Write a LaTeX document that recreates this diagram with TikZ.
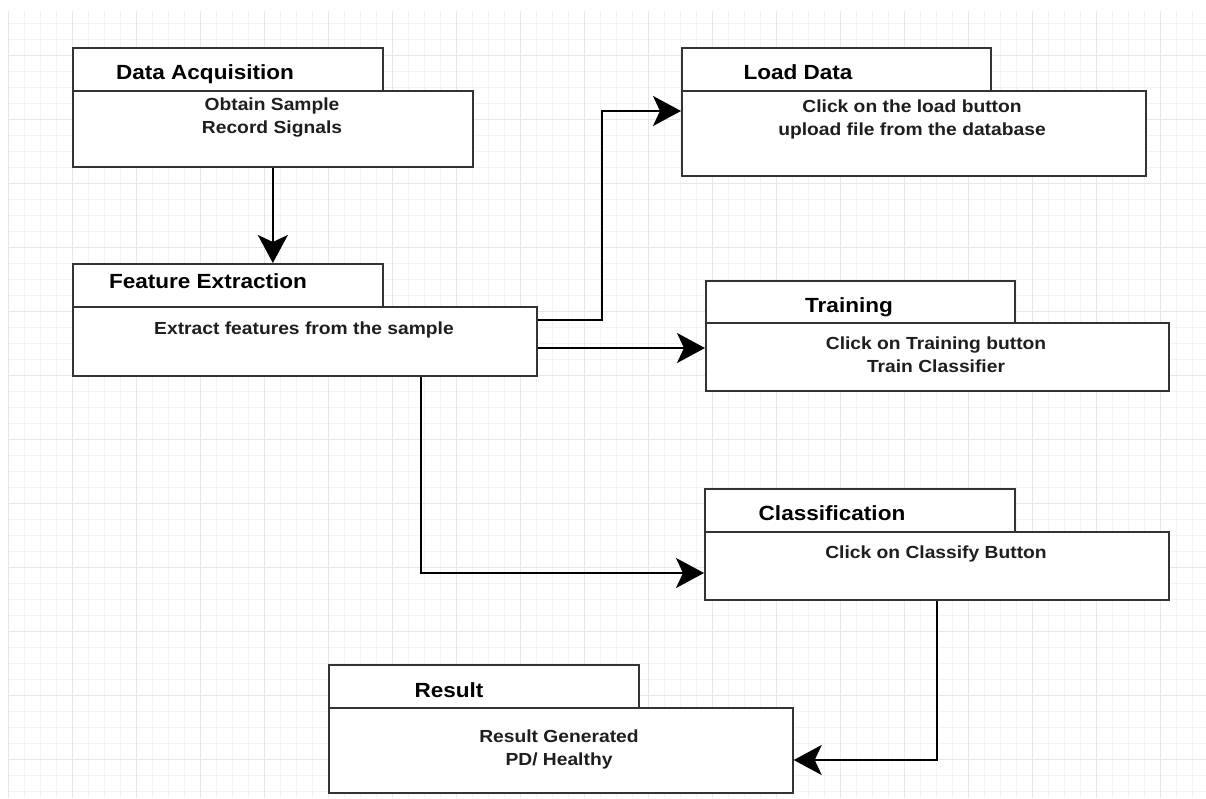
\documentclass[tikz,border=0pt]{standalone}
\usepackage{fontspec}
\setmainfont{Liberation Sans}[FakeStretch=1.1]
\usetikzlibrary{arrows.meta,calc}

\definecolor{gridminor}{HTML}{F3F3F3}
\definecolor{gridmajor}{HTML}{E7E7E7}
\definecolor{boxline}{HTML}{333333}
\definecolor{bodytext}{HTML}{1E1E1E}

\tikzset{
  box/.style={draw=boxline, line width=1.7pt, fill=white, rectangle,
    inner sep=0pt, anchor=north west},
  headbox/.style={box, minimum width=310pt, minimum height=43pt},
  titletext/.style={font=\bfseries\fontsize{20.5}{24}\selectfont, text=black,
    inner sep=0pt, anchor=base},
  bodytxt/.style={font=\bfseries\fontsize{17.5}{23}\selectfont, text=bodytext,
    align=center, inner sep=0pt, anchor=north},
  flow/.style={draw=black, line width=1.8pt,
    -{Stealth[length=28pt,width=30pt,inset=7pt]}}
}

\begin{document}
\begin{tikzpicture}[x=1pt, y=-1pt]
  \useasboundingbox[fill=white] (0,0) rectangle (1206,798);

  % background grid
  \begin{scope}
    \clip (8,11) rectangle (1206,798);
    \foreach \x in {8,24,...,1206} \draw[gridminor, line width=1pt] (\x,11) -- (\x,798);
    \foreach \y in {23,39,...,798} \draw[gridminor, line width=1pt] (8,\y) -- (1206,\y);
    \foreach \x in {8,72,...,1206} \draw[gridmajor, line width=1pt] (\x,11) -- (\x,798);
    \foreach \y in {55,119,...,798} \draw[gridmajor, line width=1pt] (8,\y) -- (1206,\y);
  \end{scope}

  % Data Acquisition
  \node[headbox] (daH) at (72,47) {};
  \node[box, minimum width=400pt, minimum height=76pt] (daB) at (72,90) {};
  \node[titletext] (daT) at (205,79) {Data Acquisition};
  \node[bodytxt] (daX) at (272,98) {Obtain Sample\\Record Signals};

  % Load Data
  \node[headbox, minimum width=309pt] (ldH) at (681,47) {};
  \node[box, minimum width=464pt, minimum height=85pt] (ldB) at (681,90) {};
  \node[titletext] (ldT) at (798,79) {Load Data};
  \node[bodytxt] (ldX) at (912,100) {Click on the load button\\upload file from the database};

  % Feature Extraction
  \node[headbox] (feH) at (72,263) {};
  \node[box, minimum width=464pt, minimum height=69pt] (feB) at (72,306) {};
  \node[titletext] (feT) at (208,288) {Feature Extraction};
  \node[bodytxt] (feX) at (304,322) {Extract features from the sample};

  % Training
  \node[headbox, minimum width=309pt, minimum height=42pt] (trH) at (705,280) {};
  \node[box, minimum width=463pt, minimum height=68pt] (trB) at (705,322) {};
  \node[titletext] (trT) at (849,312) {Training};
  \node[bodytxt] (trX) at (936,337) {Click on Training button\\Train Classifier};

  % Classification
  \node[headbox] (clH) at (704,488) {};
  \node[box, minimum width=464pt, minimum height=68pt] (clB) at (704,531) {};
  \node[titletext] (clT) at (832,520) {Classification};
  \node[bodytxt] (clX) at (936,546) {Click on Classify Button};

  % Result
  \node[headbox] (rsH) at (328,664) {};
  \node[box, minimum width=464pt, minimum height=85pt] (rsB) at (328,707) {};
  \node[titletext] (rsT) at (449,697) {Result};
  \node[bodytxt] (rsX) at (559,730) {Result Generated\\PD/ Healthy};

  % connectors
  \draw[flow] (daB.south) -- (daB.south |- feH.north);
  \draw[flow] ($(feB.north east)+(0,14)$) -| ($(feB.north east)+(64,14)$)
    |- ($(ldB.north west)+(0,21)$);
  \draw[flow] ($(feB.north east)+(0,42)$) -- ($(trB.north west)+(0,26)$);
  \draw[flow] ($(feB.south west)+(349,0)$) |- ($(clB.north west)+(0,42)$);
  \draw[flow] ($(clB.south west)+(233,0)$) |- ($(rsB.north east)+(0,53)$);
\end{tikzpicture}
\end{document}
